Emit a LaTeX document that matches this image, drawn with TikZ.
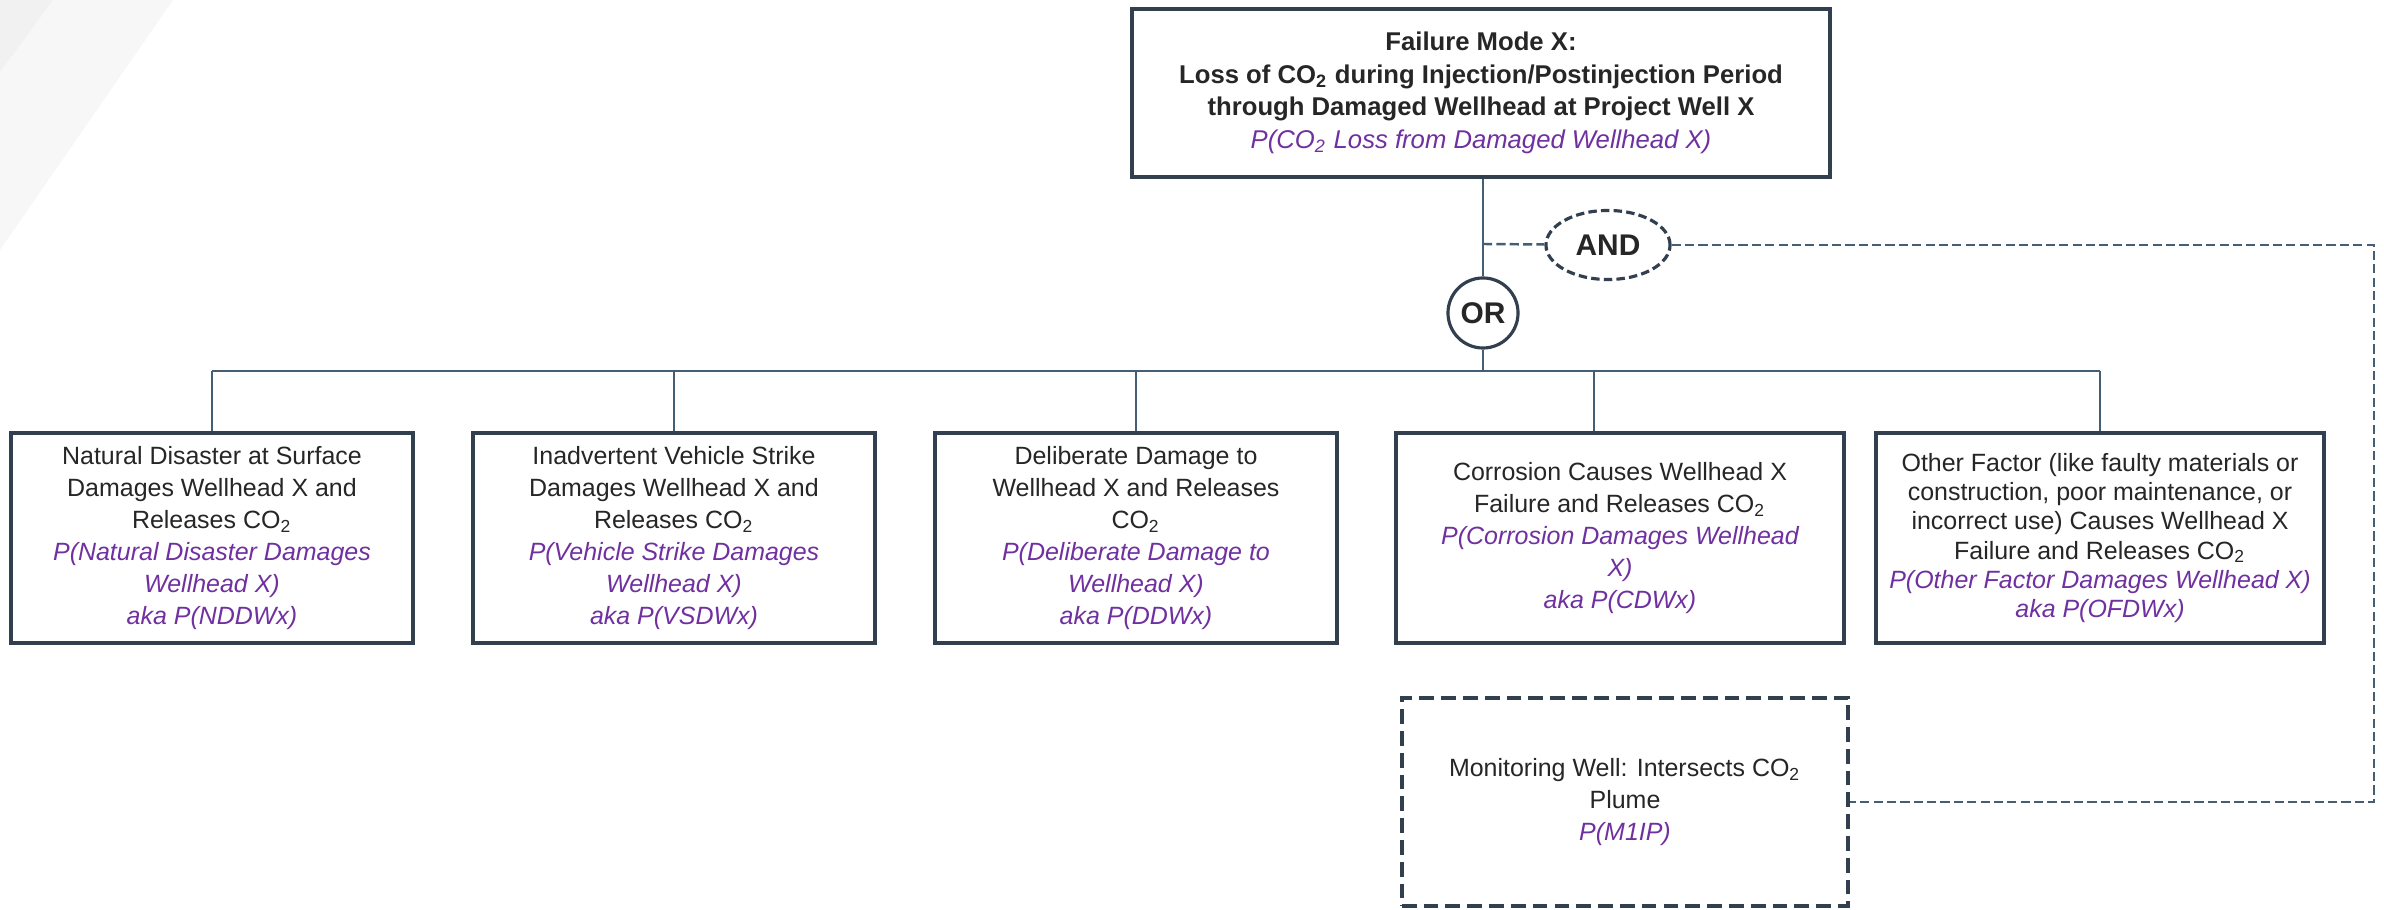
\documentclass[tikz,border=0pt]{standalone}
\usepackage{fontspec}
\setmainfont{Liberation Sans}
\usetikzlibrary{shapes.geometric}

\definecolor{edge}{HTML}{323F4F}
\definecolor{wire}{HTML}{445E75}
\definecolor{ink}{HTML}{262626}
\definecolor{purp}{HTML}{7030A0}
\newcommand{\cotwo}{CO\textsubscript{2}}
\newcommand{\prob}[1]{{\color{purp}\mdseries\itshape #1}}

\begin{document}
\begin{tikzpicture}[x=0.01cm, y=-0.01cm,
        evbox/.style={draw=edge, line width=1.15pt, fill=white, text=ink, align=center,
            inner sep=0pt, minimum height=2.1cm, font=\fontsize{7.1}{9.1}\selectfont},
        gate/.style={draw=edge, line width=0.9pt, fill=white, text=ink, inner sep=0pt,
            font=\bfseries\fontsize{8.5}{10}\selectfont},
        link/.style={draw=wire, line width=0.6pt},
        dlink/.style={draw=wire, line width=0.7pt, dash pattern=on 2.6pt off 1.2pt}]
        \useasboundingbox (0,0) rectangle (2384,910);

        % background stripes
        \fill[gray!6] (0,0) -- (173,0) -- (0,250) -- cycle;
        \fill[gray!11] (0,0) -- (53,0) -- (0,72) -- cycle;

        \node[evbox, minimum width=6.97cm, minimum height=1.67cm,
            font=\bfseries\fontsize{7.3}{9.3}\selectfont] (top) at (1481,93)
            {Failure Mode X:\\
             Loss of \cotwo{} during Injection/Postinjection Period\\
             through Damaged Wellhead at Project Well X\\
             \prob{P(\cotwo{} Loss from Damaged Wellhead X)}};

        \node[gate, ellipse, dash pattern=on 2.4pt off 1.2pt, minimum width=1.24cm,
            minimum height=0.69cm] (and) at (1608,245) {AND};
        \node[gate, circle, minimum size=0.70cm] (or) at (1483,313) {OR};

        \node[evbox, minimum width=4.01cm] (box1) at (212,538)
            {Natural Disaster at Surface\\Damages Wellhead X and\\Releases \cotwo\\
             \prob{P(Natural Disaster Damages}\\\prob{Wellhead X)}\\\prob{aka P(NDDWx)}};
        \node[evbox, minimum width=4.02cm] (box2) at (674,538)
            {Inadvertent Vehicle Strike\\Damages Wellhead X and\\Releases \cotwo\\
             \prob{P(Vehicle Strike Damages}\\\prob{Wellhead X)}\\\prob{aka P(VSDWx)}};
        \node[evbox, minimum width=4.02cm] (box3) at (1136,538)
            {Deliberate Damage to\\Wellhead X and Releases\\\cotwo\\
             \prob{P(Deliberate Damage to}\\\prob{Wellhead X)}\\\prob{aka P(DDWx)}};
        \node[evbox, minimum width=4.47cm] (box4) at (1620,538)
            {Corrosion Causes Wellhead X\\Failure and Releases \cotwo\\
             \prob{P(Corrosion Damages Wellhead}\\\prob{X)}\\\prob{aka P(CDWx)}};
        \node[evbox, minimum width=4.47cm, font=\fontsize{7.1}{8.3}\selectfont] (box5) at (2100,538)
            {Other Factor (like faulty materials or\\construction, poor maintenance, or\\
             incorrect use) Causes Wellhead X\\Failure and Releases \cotwo\\
             \prob{P(Other Factor Damages Wellhead X)}\\\prob{aka P(OFDWx)}};

        \node[evbox, dash pattern=on 4.2pt off 2pt, minimum width=4.46cm,
            minimum height=2.08cm] (mon) at (1625,802)
            {Monitoring Well: Intersects \cotwo\\Plume\\\prob{P(M1IP)}};

        \coordinate (tap) at (1483,244);
        \coordinate (bus) at (1483,371);
        \coordinate (turn) at (2374,802);

        % tree
        \draw[link] (top.south -| or) -- (or.north);
        \draw[link] (or) -- (bus);
        \draw[link] (bus -| box1) -- (bus -| box5);
        \foreach \b in {box1,box2,box3,box5}
            \draw[link] (bus -| \b) -- (\b.north);
        \draw[link] ([xshift=-0.26cm]box4.north |- bus) -- ([xshift=-0.26cm]box4.north);

        % AND branch
        \draw[dlink] (tap) -- (and);
        \draw[dlink] (and) -| (turn) -- (mon);
    \end{tikzpicture}
\end{document}
